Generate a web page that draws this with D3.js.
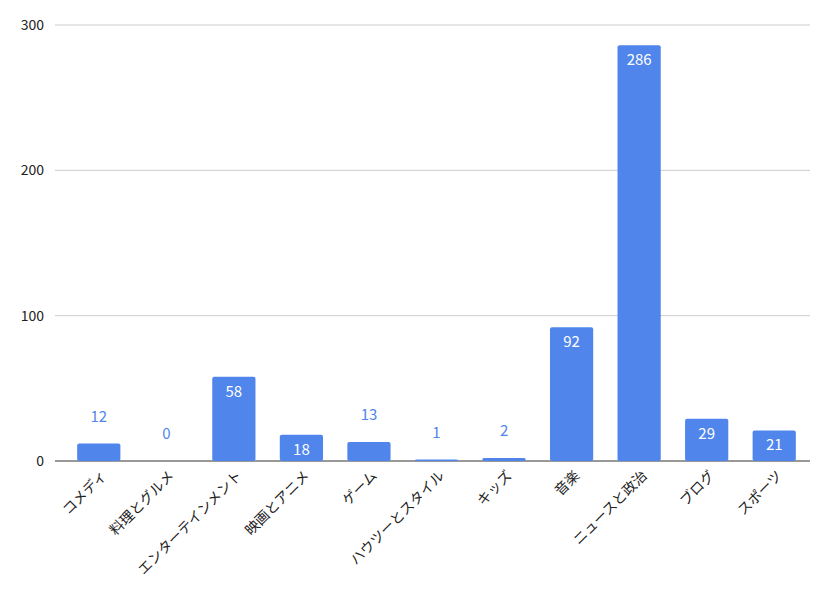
<!DOCTYPE html>
<html><head><meta charset="utf-8">
<script src="https://cdn.jsdelivr.net/npm/d3@7"></script>
<style>body{margin:0;background:#fff}</style></head>
<body><svg id="c" width="840" height="600"></svg>
<script>
const categories = ["コメディ","料理とグルメ","エンターテインメント","映画とアニメ","ゲーム","ハウツーとスタイル","キッズ","音楽","ニュースと政治","ブログ","スポーツ"];
const values = [12,0,58,18,13,1,2,92,286,29,21];
const yTicks = [0,100,200,300];

const svg = d3.select("#c");
const font = "'Noto Sans CJK JP', Roboto, sans-serif";
const x = d3.scaleBand().domain(categories).range([65,808]).paddingInner(0.36).paddingOuter(0.18);
const y = d3.scaleLinear().domain([0,300]).range([461,25]);

svg.append("g").selectAll("line").data(yTicks).join("line")
  .attr("x1",55).attr("x2",810).attr("y1",d=>y(d)).attr("y2",d=>y(d))
  .attr("stroke",d=>d===0?"#333":"#ccc").attr("stroke-width",1);
svg.append("g").selectAll("text").data(yTicks).join("text")
  .attr("x",44).attr("y",d=>y(d)+5).attr("text-anchor","end")
  .attr("font-family",font).attr("font-size",14).attr("fill","#222").text(d=>d);

svg.append("g").selectAll("rect").data(values).join("rect")
  .attr("x",(d,i)=>x(categories[i])).attr("width",x.bandwidth())
  .attr("y",d=>y(d)).attr("height",d=>y(0)-y(d)).attr("rx",2)
  .attr("fill","#5086ec");

svg.append("g").selectAll("text").data(values).join("text")
  .attr("x",(d,i)=>x(categories[i])+x.bandwidth()/2)
  .attr("y",d=>d>=18?y(d)+20:y(d)-22)
  .attr("text-anchor","middle").attr("font-family",font).attr("font-size",15)
  .attr("fill",d=>d>=18?"#fff":"#5086ec").text(d=>d);

svg.append("g").selectAll("text").data(categories).join("text")
  .attr("transform",d=>`translate(${x(d)+x.bandwidth()/2+6},${474}) rotate(-45)`)
  .attr("text-anchor","end").attr("dominant-baseline","middle")
  .attr("font-family",font).attr("font-size",14).attr("fill","#222").text(d=>d);
</script></body></html>
